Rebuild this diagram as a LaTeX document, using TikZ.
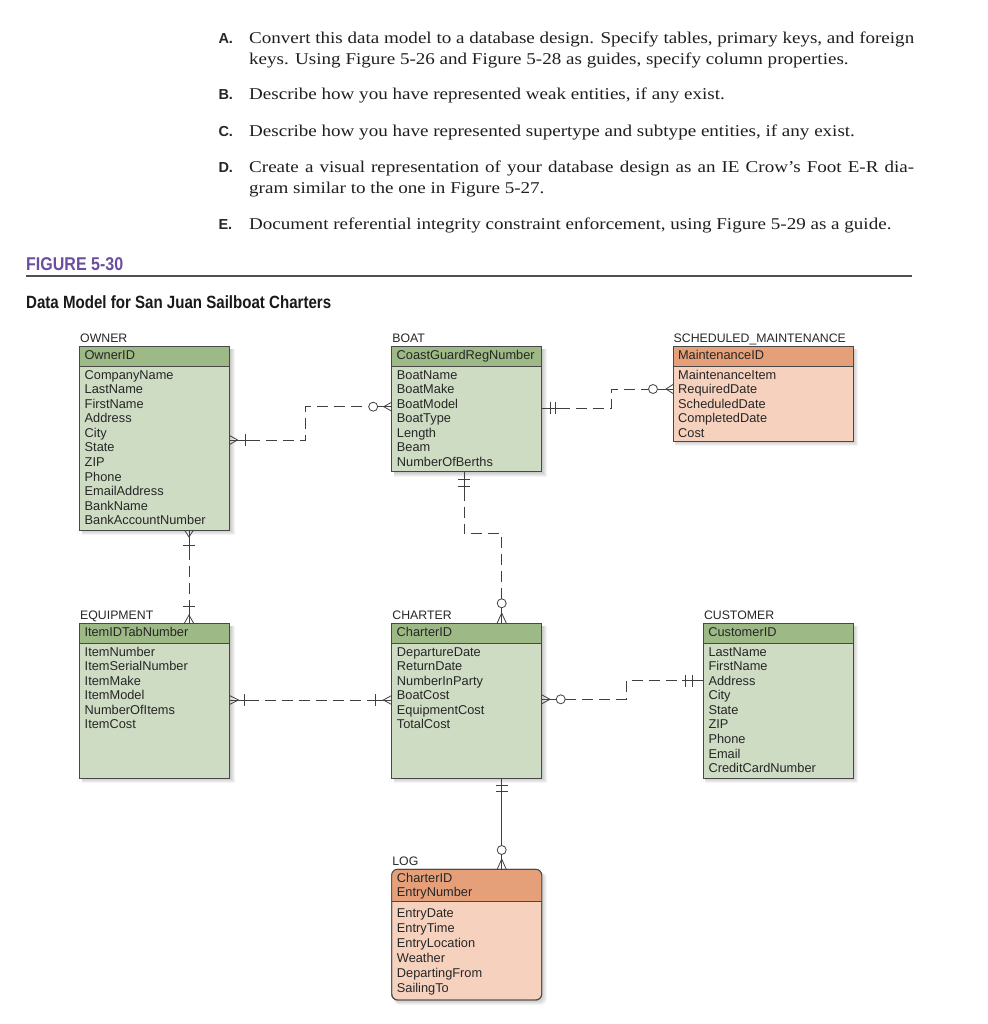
\documentclass[tikz,border=0pt]{standalone}
\usepackage{fontspec}
\setmainfont{Liberation Serif}
\newfontfamily\arial{Liberation Sans}
\usetikzlibrary{calc}

\definecolor{keyG}{RGB}{157,186,134}
\definecolor{bodyG}{RGB}{207,220,196}
\definecolor{keyO}{RGB}{229,160,122}
\definecolor{bodyO}{RGB}{246,210,190}
\definecolor{edgec}{RGB}{72,72,72}
\definecolor{txtc}{RGB}{38,38,38}
\definecolor{connc}{RGB}{64,64,64}
\definecolor{figpurple}{RGB}{108,78,160}
\definecolor{rulec}{RGB}{80,80,80}

\newcommand\efont{\arial\fontsize{12.8}{14.55}\selectfont}
\newcommand\lfont{\arial\fontsize{12.3}{14}\selectfont}
\newcommand\serifT{\fontsize{16.5}{20}\selectfont}
\newcommand\letterT{\arial\bfseries\fontsize{14.5}{18}\selectfont}
\newlength\reflen
\newcommand\lineAone{Convert this data model to a database design. Specify tables, primary keys, and foreign}

\tikzset{
  ent/.style={draw=edgec, line width=0.9pt, anchor=north west, inner sep=0pt, outer sep=0pt},
  keyrow/.style={draw=edgec, line width=0.9pt, anchor=north west, inner xsep=5pt, inner ysep=0pt,
     outer sep=0pt, align=left, font=\efont, text=txtc, text height=9.2pt, text depth=2.8pt},
  attrs/.style={anchor=north west, inner sep=0pt, align=left, font=\efont, text=txtc},
  elabel/.style={anchor=base west, inner sep=0pt, font=\lfont, text=txtc},
  connl/.style={draw=connc, line width=0.8pt},
  dashc/.style={connl, dash pattern=on 11pt off 6pt},
  toptxt/.style={anchor=base west, inner sep=0pt, font=\serifT, text=black!88},
  letter/.style={anchor=base west, inner sep=0pt, font=\letterT, text=black!85},
}

\newcommand\cfCrow[1]{\draw[connl] (0,4.5) -- (#1,0) -- (0,-4.5);}
\newcommand\cfBar[1]{\draw[connl] (#1,-6) -- (#1,6);}
\newcommand\cfRing[1]{\draw[connl, fill=white] (#1,0) circle[radius=4.5pt];}
\newcommand\cfStub[1]{\draw[connl] (0,0) -- (#1,0);}

% \entity[colour]{name}{x}{y}{w}{h}{label}{key}{attributes}
\newcommand\entity[9][G]{%
  \foreach \k in {1,...,5}{\fill[black,opacity=0.045] (#3+2,#4+3) rectangle (#3+#5+\k,#4+#6+\k);}
  \node[ent, fill=body#1, minimum width=#5pt, minimum height=#6pt] (#2) at (#3,#4) {};
  \pgfmathsetmacro\tw{#5-10}
  \node[keyrow, fill=key#1, minimum width=#5pt, minimum height=20pt, text width=\tw pt] (#2K) at (#2.north west) {#8};
  \node[elabel] (#2L) at (#3+0.5,#4-3.7) {#7};
  \node[attrs] (#2A) at (#3+5,#4+22.8) {#9};
}

\begin{document}
\settowidth\reflen{\serifT\lineAone}%
\pgfmathsetmacro\sx{665/\reflen}%
\begin{tikzpicture}[x=1pt,y=-1pt]
\fill[white] (0,0) rectangle (987,1024);
\useasboundingbox (0,0) rectangle (987,1024);

% ---------- top text ----------
\node[letter] (lA) at (218.3,43.3) {A.};
\node[toptxt] (tA1) at (249,43.3) {\scalebox{\sx}[1]{\lineAone}};
\node[toptxt] (tA2) at (249,64.3) {\scalebox{\sx}[1]{keys. Using Figure 5-26 and Figure 5-28 as guides, specify column properties.}};
\node[letter] (lB) at (218.3,100) {B.};
\node[toptxt] (tB) at (249,100) {\scalebox{\sx}[1]{Describe how you have represented weak entities, if any exist.}};
\node[letter] (lC) at (218.3,136.7) {C.};
\node[toptxt] (tC) at (249,136.7) {\scalebox{\sx}[1]{Describe how you have represented supertype and subtype entities, if any exist.}};
\node[letter] (lD) at (218.3,172.7) {D.};
\node[toptxt] (tD1) at (249,172.7) {\scalebox{\sx}[1]{\makebox[\reflen][s]{Create a visual representation of your database design as an IE Crow’s Foot E-R dia-}}};
\node[toptxt] (tD2) at (249,193.3) {\scalebox{\sx}[1]{gram similar to the one in Figure 5-27.}};
\node[letter] (lE) at (218.3,229.3) {E.};
\node[toptxt] (tE) at (249,229.3) {\scalebox{\sx}[1]{Document referential integrity constraint enforcement, using Figure 5-29 as a guide.}};

% ---------- figure heading ----------
\node[anchor=base west, inner sep=0pt, text=figpurple, font=\arial\bfseries\fontsize{18.5}{20}\selectfont] (fig) at (26,270) {\resizebox{97pt}{\height}{FIGURE 5-30}};
\draw[rulec, line width=1.6pt] (26,276) -- (912,276);
\node[anchor=base west, inner sep=0pt, text=black!90, font=\arial\bfseries\fontsize{17.7}{20}\selectfont] (cap) at (26,308.3) {\resizebox{305pt}{\height}{Data Model for San Juan Sailboat Charters}};

% ---------- entities ----------
\entity{owner}{79.5}{346}{150}{184}{OWNER}{OwnerID}{\strut CompanyName\\\strut LastName\\\strut FirstName\\\strut Address\\\strut City\\\strut State\\\strut ZIP\\\strut Phone\\\strut EmailAddress\\\strut BankName\\\strut BankAccountNumber}
\entity{boat}{391.7}{346}{150}{125.5}{BOAT}{CoastGuardRegNumber}{\strut BoatName\\\strut BoatMake\\\strut BoatModel\\\strut BoatType\\\strut Length\\\strut Beam\\\strut NumberOfBerths}
\entity[O]{sm}{673}{346}{180}{95}{SCHEDULED\_MAINTENANCE}{MaintenanceID}{\strut MaintenanceItem\\\strut RequiredDate\\\strut ScheduledDate\\\strut CompletedDate\\\strut Cost}
\entity{equip}{79.5}{623}{150}{155.3}{EQUIPMENT}{ItemIDTabNumber}{\strut ItemNumber\\\strut ItemSerialNumber\\\strut ItemMake\\\strut ItemModel\\\strut NumberOfItems\\\strut ItemCost}
\entity{charter}{391.7}{623}{150}{155.3}{CHARTER}{CharterID}{\strut DepartureDate\\\strut ReturnDate\\\strut NumberInParty\\\strut BoatCost\\\strut EquipmentCost\\\strut TotalCost}
\entity{customer}{703.3}{623}{150}{155.3}{CUSTOMER}{CustomerID}{\strut LastName\\\strut FirstName\\\strut Address\\\strut City\\\strut State\\\strut ZIP\\\strut Phone\\\strut Email\\\strut CreditCardNumber}

% LOG (rounded, weak entity)
\foreach \k in {1,...,5}{\fill[black,opacity=0.045,rounded corners=6pt] (393.7,872.3) rectangle (541.7+\k,1000+\k);}
\node[ent, fill=bodyO, rounded corners=6pt, minimum width=150pt, minimum height=130.7pt] (log) at (391.7,869.3) {};
\begin{scope}
  \clip[rounded corners=6pt] (log.north west) rectangle (log.south east);
  \fill[keyO] (log.north west) rectangle ($(log.north east)+(0,32.4)$);
\end{scope}
\draw[edgec, line width=0.9pt] ($(log.north west)+(0,32.4)$) -- ($(log.north east)+(0,32.4)$);
\draw[edgec, line width=0.9pt, rounded corners=6pt] (log.north west) rectangle (log.south east);
\node[elabel] (logL) at (392.2,865.6) {LOG};
\node[attrs, font=\arial\fontsize{12.8}{13}\selectfont] (logK) at (396.7,872.9) {\strut CharterID\\\strut EntryNumber};
\node[attrs, font=\arial\fontsize{12.8}{15}\selectfont] (logA) at (396.7,906.8) {\strut EntryDate\\\strut EntryTime\\\strut EntryLocation\\\strut Weather\\\strut DepartingFrom\\\strut SailingTo};

% ---------- connectors ----------
% OWNER - BOAT
\coordinate (c1a) at ($(owner.north east)+(0,94)$);
\coordinate (c1b) at ($(boat.north west)+(0,60.7)$);
\draw[dashc] ($(c1a)+(19,0)$) -- ($(c1a)+(76.2,0)$) |- ($(c1b)+(-23,0)$);
\begin{scope}[shift={(c1a)}] \cfStub{19} \cfCrow{8} \cfBar{16} \end{scope}
\begin{scope}[shift={(c1b)}, rotate=180] \cfStub{14} \cfCrow{8} \cfRing{18.5} \end{scope}

% BOAT - SCHEDULED_MAINTENANCE
\coordinate (c2a) at ($(boat.north east)+(0,62.3)$);
\coordinate (c2b) at ($(sm.north west)+(0,43)$);
\draw[dashc] ($(c2a)+(17,0)$) -- ($(c2a)+(70,0)$) |- ($(c2b)+(-24.5,0)$);
\begin{scope}[shift={(c2a)}] \cfStub{17} \cfBar{8.3} \cfBar{13.3} \end{scope}
\begin{scope}[shift={(c2b)}, rotate=180] \cfStub{15.5} \cfCrow{7} \cfRing{20} \end{scope}

% OWNER - EQUIPMENT
\coordinate (c3a) at ($(owner.south west)+(109.5,0)$);
\coordinate (c3b) at ($(equip.north west)+(109.5,0)$);
\draw[dashc] ($(c3a)+(0,19)$) -- ($(c3b)+(0,-21)$);
\begin{scope}[shift={(c3a)}, rotate=-90] \cfStub{19} \cfCrow{7} \cfBar{15} \end{scope}
\begin{scope}[shift={(c3b)}, rotate=90] \cfStub{21} \cfCrow{8} \cfBar{17} \end{scope}

% BOAT - CHARTER
\coordinate (c4a) at ($(boat.south west)+(72.3,0)$);
\coordinate (c4b) at ($(charter.north west)+(110,0)$);
\draw[dashc] ($(c4a)+(0,18)$) -- ($(c4a)+(0,61.8)$) -| ($(c4b)+(0,-24.2)$);
\begin{scope}[shift={(c4a)}, rotate=-90] \cfStub{18} \cfBar{8} \cfBar{14.5} \end{scope}
\begin{scope}[shift={(c4b)}, rotate=90] \cfStub{15.2} \cfCrow{10} \cfRing{19.7} \end{scope}

% EQUIPMENT - CHARTER
\coordinate (c5a) at ($(equip.north east)+(0,77)$);
\coordinate (c5b) at ($(charter.north west)+(0,77)$);
\draw[dashc] ($(c5a)+(18,0)$) -- ($(c5b)+(-20,0)$);
\begin{scope}[shift={(c5a)}] \cfStub{18} \cfCrow{9} \cfBar{15} \end{scope}
\begin{scope}[shift={(c5b)}, rotate=180] \cfStub{20} \cfCrow{8.4} \cfBar{16.7} \end{scope}

% CHARTER - CUSTOMER
\coordinate (c6a) at ($(charter.north east)+(0,76.3)$);
\coordinate (c6b) at ($(customer.north west)+(0,57.7)$);
\draw[dashc] ($(c6a)+(23.5,0)$) -- ($(c6a)+(84.3,0)$) |- ($(c6b)+(-21,0)$);
\begin{scope}[shift={(c6a)}] \cfStub{14.5} \cfCrow{8.3} \cfRing{19} \end{scope}
\begin{scope}[shift={(c6b)}, rotate=180] \cfStub{21} \cfBar{11} \cfBar{17.6} \end{scope}

% CHARTER - LOG (identifying, solid)
\coordinate (c7a) at ($(charter.south west)+(110,0)$);
\coordinate (c7b) at ($(log.north west)+(110,0)$);
\draw[connl] (c7a) -- ($(c7b)+(0,-23.8)$);
\begin{scope}[shift={(c7a)}, rotate=-90] \cfBar{6.8} \cfBar{13.5} \end{scope}
\begin{scope}[shift={(c7b)}, rotate=90] \cfStub{14.8} \cfCrow{10.3} \cfRing{19.3} \end{scope}

\end{tikzpicture}
\end{document}
